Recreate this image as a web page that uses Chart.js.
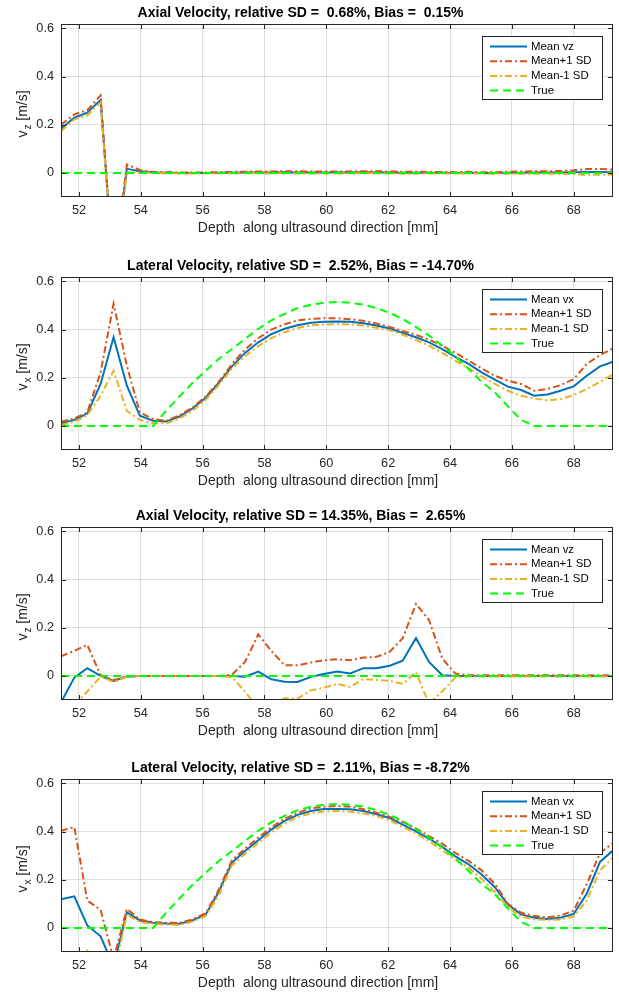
<html>
<head>
<script src="https://cdn.jsdelivr.net/npm/chart.js"></script>
<style>
  body { margin: 0; background: white; width: 619px; height: 992px; position: relative; overflow: hidden; }
  .panel { position: absolute; left: 0; width: 619px; height: 237px; }
</style>
</head>
<body>
<div class="panel" style="top:0px"><canvas id="c1" width="619" height="237"></canvas></div>
<div class="panel" style="top:253px"><canvas id="c2" width="619" height="237"></canvas></div>
<div class="panel" style="top:503px"><canvas id="c3" width="619" height="237"></canvas></div>
<div class="panel" style="top:755px"><canvas id="c4" width="619" height="237"></canvas></div>

<script>
// depth samples [mm]
const depthMm = [51.42, 51.85, 52.27, 52.70, 53.12, 53.55, 53.97, 54.40, 54.82, 55.25, 55.67, 56.10, 56.52, 56.95, 57.37,
  57.80, 58.22, 58.65, 59.07, 59.50, 59.92, 60.35, 60.77, 61.20, 61.62, 62.05, 62.47, 62.90, 63.32, 63.75, 64.17,
  64.60, 65.02, 65.45, 65.87, 66.30, 66.72, 67.15, 67.57, 68.00, 68.42, 68.85, 69.27];

const xTicks = [52, 54, 56, 58, 60, 62, 64, 66, 68];
const yTicks = [0, 0.2, 0.4, 0.6];

const titles = [
  'Axial Velocity, relative SD =  0.68%, Bias =  0.15%',
  'Lateral Velocity, relative SD =  2.52%, Bias = -14.70%',
  'Axial Velocity, relative SD = 14.35%, Bias =  2.65%',
  'Lateral Velocity, relative SD =  2.11%, Bias = -8.72%'
];
const seriesNames = ['Mean', 'Mean+1 SD', 'Mean-1 SD', 'True'];

// panel 1 - axial
const axialMean1 = [0.183, 0.229, 0.25, 0.303, -0.42, 0.017, 0.007, 0.002, 0.001, 0, 0, 0, 0.001, 0.001, 0.002,
  0.002, 0.002, 0.003, 0.002, 0.002, 0.002, 0.002, 0.002, 0.003, 0.002, 0.002, 0.001, 0.001, 0.001, 0.001, 0,
  0.001, 0, 0, 0.001, 0.001, 0.002, 0.002, 0.002, 0.003, 0.004, 0.004, 0.003];
const axialPlus1 = [0.2, 0.243, 0.26, 0.322, -0.41, 0.035, 0.012, 0.004, 0.003, 0.002, 0.002, 0.002, 0.003, 0.004, 0.005,
  0.006, 0.006, 0.007, 0.007, 0.006, 0.006, 0.006, 0.006, 0.007, 0.007, 0.006, 0.005, 0.005, 0.004, 0.004, 0.003,
  0.004, 0.003, 0.003, 0.005, 0.006, 0.007, 0.007, 0.008, 0.011, 0.016, 0.016, 0.014];
const axialMinus1 = [0.173, 0.222, 0.239, 0.292, -0.43, 0, 0.002, 0, -0.001, -0.002, -0.002, -0.002, -0.001, -0.001, -0.001,
  -0.002, -0.002, -0.001, -0.002, -0.002, -0.002, -0.002, -0.002, -0.001, -0.002, -0.002, -0.003, -0.003, -0.002, -0.002, -0.003,
  -0.002, -0.003, -0.003, -0.003, -0.003, -0.003, -0.003, -0.004, -0.005, -0.008, -0.008, -0.007];

// panel 2 - lateral
const lateralMean2 = [0.011, 0.025, 0.051, 0.174, 0.368, 0.167, 0.042, 0.021, 0.018, 0.039, 0.072, 0.117, 0.178, 0.247, 0.303,
  0.347, 0.381, 0.403, 0.418, 0.428, 0.432, 0.433, 0.432, 0.426, 0.417, 0.404, 0.386, 0.368, 0.347, 0.319, 0.286,
  0.257, 0.222, 0.192, 0.163, 0.149, 0.125, 0.13, 0.146, 0.164, 0.208, 0.247, 0.267];
const lateralPlus2 = [0.017, 0.031, 0.056, 0.222, 0.507, 0.25, 0.056, 0.028, 0.021, 0.044, 0.076, 0.122, 0.183, 0.257, 0.317,
  0.364, 0.4, 0.422, 0.438, 0.444, 0.447, 0.447, 0.443, 0.436, 0.425, 0.411, 0.394, 0.378, 0.358, 0.333, 0.303,
  0.271, 0.239, 0.208, 0.188, 0.174, 0.146, 0.153, 0.169, 0.194, 0.257, 0.294, 0.322];
const lateralMinus2 = [0.004, 0.017, 0.044, 0.125, 0.229, 0.062, 0.025, 0.011, 0.011, 0.031, 0.062, 0.108, 0.169, 0.239, 0.289,
  0.331, 0.364, 0.389, 0.406, 0.417, 0.421, 0.422, 0.421, 0.417, 0.407, 0.397, 0.378, 0.357, 0.333, 0.303, 0.271,
  0.239, 0.206, 0.174, 0.146, 0.125, 0.114, 0.106, 0.111, 0.128, 0.153, 0.183, 0.214];

// panel 3 - axial
const axialMean3 = [-0.11, -0.007, 0.032, 0, -0.021, -0.003, 0, 0, 0, 0, 0, 0, 0, 0, -0.003,
  0.018, -0.014, -0.024, -0.025, -0.004, 0.008, 0.018, 0.01, 0.032, 0.032, 0.042, 0.063, 0.157, 0.058, 0.003, 0,
  0, 0, 0, 0, 0, 0, 0, 0, 0, 0, 0, 0];
const axialPlus3 = [0.081, 0.104, 0.129, 0.003, -0.017, -0.002, 0, 0, 0, 0, 0, 0, 0, 0.005, 0.058,
  0.172, 0.104, 0.044, 0.044, 0.056, 0.065, 0.069, 0.065, 0.076, 0.079, 0.1, 0.156, 0.299, 0.232, 0.072, 0.01,
  0.003, 0.003, 0.003, 0.003, 0.003, 0.003, 0.003, 0.003, 0.003, 0.003, 0.003, 0.003];
const axialMinus3 = [-0.3, -0.12, -0.065, -0.003, -0.025, -0.004, 0, 0, 0, 0, 0, 0, 0, -0.005, -0.065,
  -0.136, -0.132, -0.093, -0.094, -0.06, -0.049, -0.033, -0.046, -0.013, -0.017, -0.02, -0.033, 0.015, -0.116, -0.064, -0.006,
  -0.002, -0.002, -0.002, -0.002, -0.002, -0.002, -0.002, -0.002, -0.002, -0.002, -0.002, -0.002];

// panel 4 - lateral
const lateralMean4 = [0.119, 0.131, 0.01, -0.035, -0.16, 0.065, 0.031, 0.021, 0.018, 0.017, 0.031, 0.056, 0.149, 0.271, 0.319,
  0.364, 0.408, 0.444, 0.469, 0.485, 0.493, 0.494, 0.492, 0.485, 0.472, 0.456, 0.429, 0.401, 0.371, 0.336, 0.297,
  0.264, 0.222, 0.169, 0.097, 0.056, 0.042, 0.037, 0.042, 0.058, 0.142, 0.274, 0.322];
const lateralPlus4 = [0.403, 0.419, 0.114, 0.075, -0.13, 0.079, 0.035, 0.024, 0.021, 0.021, 0.035, 0.061, 0.158, 0.281, 0.329,
  0.375, 0.417, 0.453, 0.478, 0.496, 0.503, 0.506, 0.503, 0.493, 0.478, 0.461, 0.44, 0.413, 0.381, 0.35, 0.311,
  0.278, 0.239, 0.183, 0.1, 0.063, 0.049, 0.044, 0.051, 0.072, 0.181, 0.311, 0.353];
const lateralMinus4 = [-0.165, -0.157, -0.095, -0.145, -0.2, 0.056, 0.024, 0.017, 0.014, 0.012, 0.026, 0.05, 0.135, 0.26, 0.308,
  0.353, 0.396, 0.433, 0.46, 0.475, 0.483, 0.485, 0.482, 0.475, 0.464, 0.447, 0.419, 0.392, 0.36, 0.322, 0.283,
  0.25, 0.204, 0.149, 0.086, 0.047, 0.036, 0.033, 0.035, 0.047, 0.114, 0.239, 0.292];

// true profiles
const trueAxial = [0, 0, 0, 0, 0, 0, 0, 0, 0, 0, 0, 0, 0, 0, 0,
  0, 0, 0, 0, 0, 0, 0, 0, 0, 0, 0, 0, 0, 0, 0, 0,
  0, 0, 0, 0, 0, 0, 0, 0, 0, 0, 0, 0];
const trueLateral = [0, 0, 0, 0, 0, 0, 0, 0, 0.063, 0.122, 0.178, 0.229, 0.278, 0.319, 0.361,
  0.403, 0.438, 0.465, 0.489, 0.503, 0.511, 0.514, 0.511, 0.503, 0.489, 0.469, 0.444, 0.41, 0.375, 0.333, 0.289,
  0.236, 0.183, 0.139, 0.081, 0.025, 0, 0, 0, 0, 0, 0, 0];

const FONT = '"Liberation Sans", Arial, Helvetica, sans-serif';
const AXIS_COLOR = '#262626';
const colors = ['#0072BD', '#D95319', '#EDB120', '#00FF00'];
const dashes = [[], [7, 3, 2, 3], [7, 3, 2, 3], [8, 5]];

Chart.defaults.font.family = FONT;
Chart.defaults.color = AXIS_COLOR;

// MATLAB-like box, inward ticks, legend, title and axis labels
const matlabAxes = {
  id: 'matlabAxes',
  afterDraw(chart, args, opts) {
    const ctx = chart.ctx;
    const a = chart.chartArea;
    const xs = chart.scales.x, ys = chart.scales.y;
    ctx.save();
    ctx.setLineDash([]);
    ctx.strokeStyle = AXIS_COLOR;
    ctx.lineWidth = 1;
    ctx.strokeRect(a.left + 0.5, a.top + 0.5, a.right - a.left - 1, a.bottom - a.top - 1);
    ctx.beginPath();
    xTicks.forEach(v => {
      const px = Math.round(xs.getPixelForValue(v)) + 0.5;
      ctx.moveTo(px, a.bottom); ctx.lineTo(px, a.bottom - 5);
      ctx.moveTo(px, a.top); ctx.lineTo(px, a.top + 5);
    });
    yTicks.forEach(v => {
      const py = Math.round(ys.getPixelForValue(v)) + 0.5;
      ctx.moveTo(a.left, py); ctx.lineTo(a.left + 5, py);
      ctx.moveTo(a.right, py); ctx.lineTo(a.right - 5, py);
    });
    ctx.stroke();

    // legend
    const bx = Math.round(a.right - 131) + 0.5, by = Math.round(a.top + 12) + 0.5;
    ctx.fillStyle = '#fff';
    ctx.fillRect(bx, by, 120, 63);
    ctx.strokeStyle = AXIS_COLOR;
    ctx.strokeRect(bx, by, 120, 63);
    ctx.font = '11.4px ' + FONT;
    ctx.textAlign = 'left';
    ctx.textBaseline = 'middle';
    chart.data.datasets.forEach((ds, k) => {
      const ry = by + 10 + k * 14.7;
      ctx.beginPath();
      ctx.strokeStyle = ds.borderColor;
      ctx.lineWidth = ds.borderWidth;
      ctx.setLineDash(ds.borderDash || []);
      ctx.moveTo(bx + 7.5, ry); ctx.lineTo(bx + 44.5, ry);
      ctx.stroke();
      ctx.fillStyle = '#000';
      ctx.fillText(ds.label, bx + 48.5, ry);
    });
    ctx.setLineDash([]);

    // title
    ctx.fillStyle = '#000';
    ctx.font = 'bold 14px ' + FONT;
    ctx.textAlign = 'center';
    ctx.fillText(opts.title, 300.5, 13.5);

    // x label
    ctx.fillStyle = AXIS_COLOR;
    ctx.font = '14px ' + FONT;
    ctx.fillText('Depth  along ultrasound direction [mm]', 318, 228);

    // y label with subscript, rotated
    ctx.font = '14px ' + FONT;
    const wv = ctx.measureText('v').width;
    ctx.font = '10px ' + FONT;
    const ws = ctx.measureText(opts.ySub).width;
    ctx.font = '14px ' + FONT;
    const wu = ctx.measureText(' [m/s]').width;
    const total = wv + 1 + ws + wu;
    const cy = a.top + 90;
    ctx.translate(27, cy + total / 2);
    ctx.rotate(-Math.PI / 2);
    ctx.textAlign = 'left';
    ctx.textBaseline = 'alphabetic';
    ctx.fillText('v', 0, 0);
    ctx.font = '10px ' + FONT;
    ctx.fillText(opts.ySub, wv + 1, 4);
    ctx.font = '14px ' + FONT;
    ctx.fillText(' [m/s]', wv + 1 + ws, 0);
    ctx.restore();
  }
};

function makeChart(id, title, ySub, mean, plus, minus, truth) {
  const seriesData = [mean, plus, minus, truth];
  const orderOf = [4, 3, 2, 1];
  const datasets = seriesData.map((arr, k) => ({
    label: k === 0 ? 'Mean v' + ySub : seriesNames[k],
    data: depthMm.map((x, i) => ({ x: x, y: arr[i] })),
    borderColor: colors[k],
    borderWidth: 2,
    borderDash: dashes[k],
    pointRadius: 0,
    tension: 0,
    fill: false,
    order: orderOf[k]
  }));
  new Chart(document.getElementById(id).getContext('2d'), {
    type: 'line',
    data: { datasets: datasets },
    options: {
      responsive: false,
      animation: false,
      layout: { padding: { left: 0, right: 6, top: 24, bottom: 0 } },
      plugins: {
        legend: { display: false },
        tooltip: { enabled: false },
        title: { display: false },
        matlabAxes: { title: title, ySub: ySub }
      },
      scales: {
        x: {
          type: 'linear',
          min: 51.42,
          max: 69.27,
          afterBuildTicks: s => { s.ticks = xTicks.map(v => ({ value: v })); },
          afterFit: s => { s.height = 40; },
          ticks: { font: { size: 12.7 }, color: AXIS_COLOR, padding: 6, maxRotation: 0, autoSkip: false, callback: v => String(v) },
          grid: { color: 'rgba(38,38,38,0.15)', lineWidth: 1, drawTicks: false },
          border: { display: false }
        },
        y: {
          type: 'linear',
          min: -0.1,
          max: 0.618,
          afterBuildTicks: s => { s.ticks = yTicks.map(v => ({ value: v })); },
          afterFit: s => { s.width = 61; },
          ticks: { font: { size: 12.7 }, color: AXIS_COLOR, padding: 7, callback: v => v === 0 ? '0' : v.toFixed(1) },
          grid: { color: 'rgba(38,38,38,0.15)', lineWidth: 1, drawTicks: false },
          border: { display: false }
        }
      }
    },
    plugins: [matlabAxes]
  });
}

makeChart('c1', titles[0], 'z', axialMean1, axialPlus1, axialMinus1, trueAxial);
makeChart('c2', titles[1], 'x', lateralMean2, lateralPlus2, lateralMinus2, trueLateral);
makeChart('c3', titles[2], 'z', axialMean3, axialPlus3, axialMinus3, trueAxial);
makeChart('c4', titles[3], 'x', lateralMean4, lateralPlus4, lateralMinus4, trueLateral);
</script>
</body>
</html>
